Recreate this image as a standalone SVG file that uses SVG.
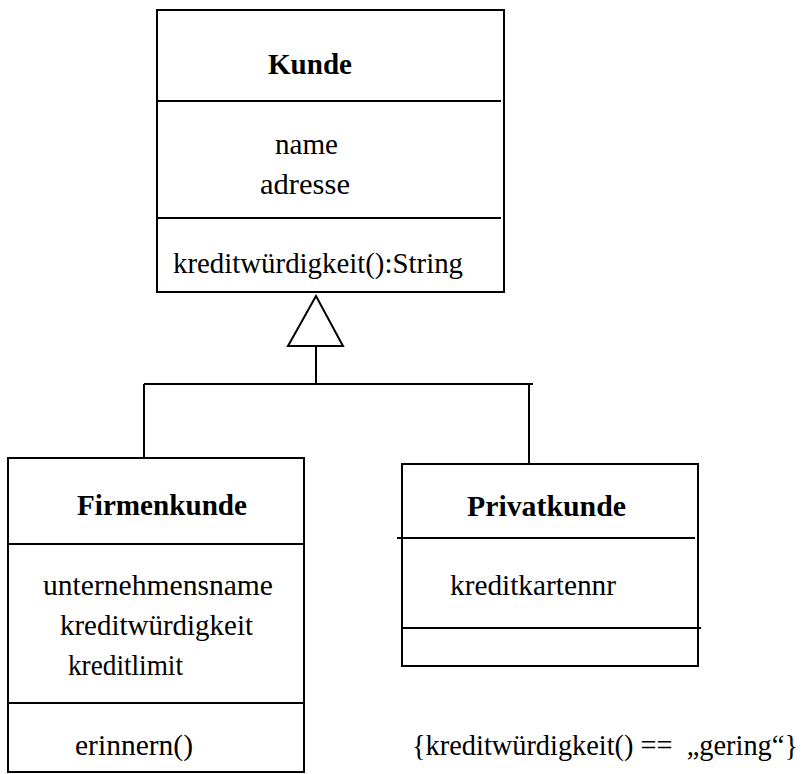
<svg xmlns="http://www.w3.org/2000/svg" width="810" height="774" viewBox="0 0 810 774" font-family="Liberation Serif, Times New Roman, serif" font-size="29">
  <style>
    .box { fill: #ffffff; stroke: #000000; stroke-width: 2; }
    .ln { fill: none; stroke: #000000; stroke-width: 2; }
    text { fill: #000000; white-space: pre; }
    .title { font-weight: bold; }
  </style>
  <rect width="810" height="774" fill="#ffffff"/>

  <!-- generalization: hollow triangle on Kunde, tree to both subclasses -->
  <g id="connectors">
    <polygon class="ln" points="316,296 288,346 343,346" fill="#ffffff"/>
    <line class="ln" x1="316" y1="346" x2="316" y2="384"/>
    <line class="ln" x1="144" y1="384" x2="533" y2="384"/>
    <line class="ln" x1="144" y1="384" x2="144" y2="458"/>
    <line class="ln" x1="529" y1="384" x2="529" y2="464"/>
  </g>

  <g id="kunde">
    <rect class="box" x="157" y="10" width="347" height="282"/>
    <line class="ln" x1="157" y1="101" x2="501" y2="101"/>
    <line class="ln" x1="157" y1="218" x2="501" y2="218"/>
    <text class="title" x="268" y="74" textLength="84" lengthAdjust="spacingAndGlyphs">Kunde</text>
    <text x="275" y="154" textLength="63" lengthAdjust="spacingAndGlyphs">name</text>
    <text x="260" y="194" textLength="90" lengthAdjust="spacingAndGlyphs">adresse</text>
    <text x="173" y="273" textLength="290" lengthAdjust="spacingAndGlyphs">kreditwürdigkeit():String</text>
  </g>

  <g id="firmenkunde">
    <rect class="box" x="8" y="458" width="296" height="314"/>
    <line class="ln" x1="8" y1="544" x2="304" y2="544"/>
    <line class="ln" x1="8" y1="703" x2="304" y2="703"/>
    <text class="title" x="77" y="515" textLength="170" lengthAdjust="spacingAndGlyphs">Firmenkunde</text>
    <text x="43" y="595" textLength="230" lengthAdjust="spacingAndGlyphs">unternehmensname</text>
    <text x="60" y="635" textLength="193" lengthAdjust="spacingAndGlyphs">kreditwürdigkeit</text>
    <text x="68" y="675" textLength="115" lengthAdjust="spacingAndGlyphs">kreditlimit</text>
    <text x="75" y="755" textLength="118" lengthAdjust="spacingAndGlyphs">erinnern()</text>
  </g>

  <g id="privatkunde">
    <rect class="box" x="402" y="464" width="296" height="202"/>
    <line class="ln" x1="397" y1="538" x2="695" y2="538"/>
    <line class="ln" x1="402" y1="628" x2="701" y2="628"/>
    <text class="title" x="467" y="516" textLength="159" lengthAdjust="spacingAndGlyphs">Privatkunde</text>
    <text x="450" y="595" textLength="166" lengthAdjust="spacingAndGlyphs">kreditkartennr</text>
  </g>

  <g id="constraint">
    <text x="412" y="755" textLength="386" lengthAdjust="spacingAndGlyphs">{kreditwürdigkeit() ==  „gering“}</text>
  </g>
</svg>
